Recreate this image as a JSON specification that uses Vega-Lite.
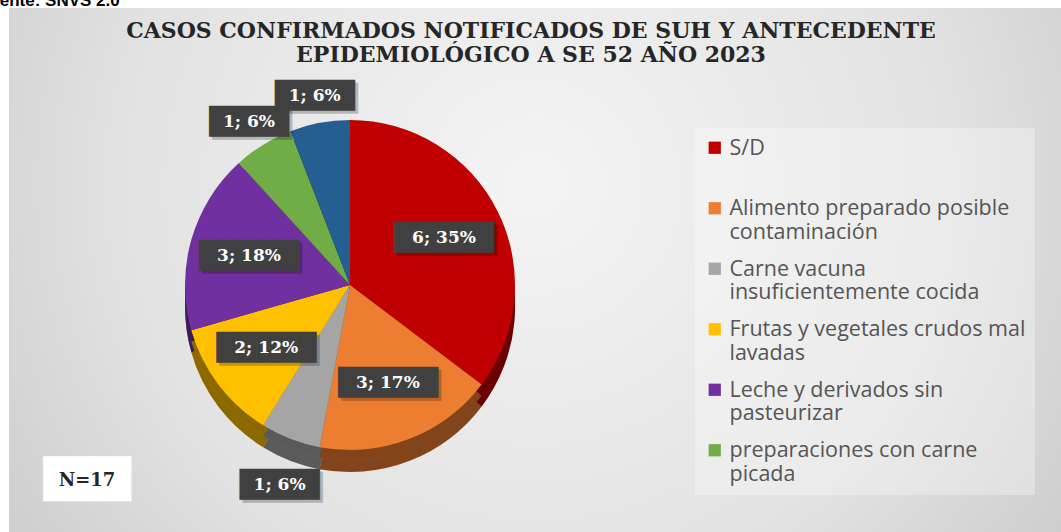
{
  "$schema": "https://vega.github.io/schema/vega-lite/v6.json",
  "width": 1052,
  "height": 524,
  "autosize": {"type": "none"},
  "padding": {"left": 9, "top": 8, "right": 0, "bottom": 0},
  "background": "#ffffff",
  "config": {"view": {"stroke": null}},
  "title": {
    "text": ["CASOS CONFIRMADOS NOTIFICADOS DE SUH Y ANTECEDENTE", "EPIDEMIOLÓGICO A SE 52 AÑO 2023"],
    "font": "DejaVu Serif",
    "fontSize": 22,
    "fontWeight": "bold",
    "color": "#262626",
    "anchor": "middle",
    "orient": "top",
    "baseline": "top",
    "lineHeight": 24,
    "offset": -75,
    "dx": -4
  },
  "datasets": {
    "main": [
      {"cat": "S/D", "n": 6, "label": "6; 35%", "ord": 1},
      {"cat": "Alimento preparado posible contaminación", "n": 3, "label": "3; 17%", "ord": 2},
      {"cat": "Carne vacuna insuficientemente cocida", "n": 1, "label": "1; 6%", "ord": 3},
      {"cat": "Frutas y vegetales crudos mal lavadas", "n": 2, "label": "2; 12%", "ord": 4},
      {"cat": "Leche y derivados sin pasteurizar", "n": 3, "label": "3; 18%", "ord": 5},
      {"cat": "preparaciones con carne picada", "n": 1, "label": "1; 6%", "ord": 6},
      {"cat": "Otros", "n": 1, "label": "1; 6%", "ord": 7}
    ]
  },
  "data": {"name": "main"},
  "layer": [
    {
      "data": {"values": [{}]},
      "mark": {"type": "rect", "color": {
        "gradient": "radial",
        "x1": 0.5, "y1": 0.42, "r1": 0,
        "x2": 0.5, "y2": 0.42, "r2": 0.72,
        "stops": [
          {"offset": 0, "color": "#f4f4f4"},
          {"offset": 0.55, "color": "#e2e2e2"},
          {"offset": 1, "color": "#c2c2c2"}
        ]
      }},
      "encoding": {}
    },
    {
      "mark": {"type": "arc", "outerRadius": 165, "x": 341, "y": 277, "yOffset": 22},
      "encoding": {
        "theta": {"field": "n", "type": "quantitative", "stack": true},
        "order": {"field": "ord", "type": "quantitative"},
        "color": {"field": "cat", "type": "nominal"}
      }
    },
    {
      "mark": {"type": "arc", "outerRadius": 165, "x": 341, "y": 277, "yOffset": 22, "color": "#000000", "opacity": 0.45},
      "encoding": {
        "theta": {"field": "n", "type": "quantitative", "stack": true},
        "order": {"field": "ord", "type": "quantitative"}
      }
    },
    {
      "mark": {"type": "arc", "outerRadius": 165, "x": 341, "y": 277, "yOffset": 11},
      "encoding": {
        "theta": {"field": "n", "type": "quantitative", "stack": true},
        "order": {"field": "ord", "type": "quantitative"},
        "color": {"field": "cat", "type": "nominal"}
      }
    },
    {
      "mark": {"type": "arc", "outerRadius": 165, "x": 341, "y": 277, "yOffset": 11, "color": "#000000", "opacity": 0.45},
      "encoding": {
        "theta": {"field": "n", "type": "quantitative", "stack": true},
        "order": {"field": "ord", "type": "quantitative"}
      }
    },
    {
      "mark": {"type": "arc", "outerRadius": 165, "x": 341, "y": 277},
      "encoding": {
        "theta": {"field": "n", "type": "quantitative", "stack": true},
        "order": {"field": "ord", "type": "quantitative"},
        "color": {"field": "cat", "type": "nominal",
          "scale": {"domain": ["S/D", "Alimento preparado posible contaminación", "Carne vacuna insuficientemente cocida", "Frutas y vegetales crudos mal lavadas", "Leche y derivados sin pasteurizar", "preparaciones con carne picada", "Otros"],
            "range": ["#C00000", "#ED7D31", "#A5A5A5", "#FFC000", "#7030A0", "#70AD47", "#255E91"]},
          "legend": {
            "orient": "none",
            "legendX": 686,
            "legendY": 120,
            "title": null,
            "values": ["S/D", "Alimento preparado posible contaminación", "Carne vacuna insuficientemente cocida", "Frutas y vegetales crudos mal lavadas", "Leche y derivados sin pasteurizar", "preparaciones con carne picada"],
            "labelExpr": "datum.label == 'S/D' ? ['S/D', ' '] : datum.label == 'Alimento preparado posible contaminación' ? ['Alimento preparado posible', 'contaminación'] : datum.label == 'Carne vacuna insuficientemente cocida' ? ['Carne vacuna', 'insuficientemente cocida'] : datum.label == 'Frutas y vegetales crudos mal lavadas' ? ['Frutas y vegetales crudos mal', 'lavadas'] : datum.label == 'Leche y derivados sin pasteurizar' ? ['Leche y derivados sin', 'pasteurizar'] : ['preparaciones con carne', 'picada']",
            "labelFont": "Open Sans",
            "labelFontSize": 21.5,
            "labelColor": "#555555",
            "labelLimit": 400,
            "labelOffset": 4,
            "labelBaseline": "top",
            "symbolType": "square",
            "symbolSize": 150,
            "symbolStrokeWidth": 0,
            "rowPadding": 14.5,
            "padding": 9,
            "fillColor": "rgba(255,255,255,0.3)",
            "encode": {"labels": {"update": {"lineHeight": {"value": 23.5}, "dy": {"value": -10}}}}
          }
        }
      }
    },
    {
      "mark": {"type": "text", "x": 341, "y": 277, "radius": 105, "dx": 3, "dy": 3, "font": "DejaVu Sans", "fontSize": 26, "color": "#000000", "baseline": "middle", "align": "center"},
      "encoding": {
        "theta": {"field": "n", "type": "quantitative", "stack": true},
        "order": {"field": "ord", "type": "quantitative"},
        "text": {"value": "█████"},
        "opacity": {"condition": {"test": "datum.n >= 2", "value": 0.22}, "value": 0}
      }
    },
    {
      "mark": {"type": "text", "x": 341, "y": 277, "radius": 105, "font": "DejaVu Sans", "fontSize": 26, "color": "#404040", "baseline": "middle", "align": "center"},
      "encoding": {
        "theta": {"field": "n", "type": "quantitative", "stack": true},
        "order": {"field": "ord", "type": "quantitative"},
        "text": {"value": "█████"},
        "opacity": {"condition": {"test": "datum.n >= 2", "value": 1}, "value": 0}
      }
    },
    {
      "mark": {"type": "text", "x": 341, "y": 277, "radius": 105, "font": "DejaVu Serif", "fontWeight": "bold", "fontSize": 17, "color": "#ffffff", "baseline": "middle", "align": "center"},
      "encoding": {
        "theta": {"field": "n", "type": "quantitative", "stack": true},
        "order": {"field": "ord", "type": "quantitative"},
        "text": {"field": "label"},
        "opacity": {"condition": {"test": "datum.n >= 2", "value": 1}, "value": 0}
      }
    },
    {
      "mark": {"type": "text", "x": 341, "y": 277, "radius": 192, "dx": 3, "dy": 3, "font": "DejaVu Sans", "fontSize": 26, "color": "#000000", "baseline": "middle", "align": "center"},
      "encoding": {
        "theta": {"field": "n", "type": "quantitative", "stack": true},
        "order": {"field": "ord", "type": "quantitative"},
        "text": {"value": "████"},
        "opacity": {"condition": {"test": "datum.ord >= 6", "value": 0.22}, "value": 0}
      }
    },
    {
      "mark": {"type": "text", "x": 341, "y": 277, "radius": 192, "font": "DejaVu Sans", "fontSize": 26, "color": "#404040", "baseline": "middle", "align": "center"},
      "encoding": {
        "theta": {"field": "n", "type": "quantitative", "stack": true},
        "order": {"field": "ord", "type": "quantitative"},
        "text": {"value": "████"},
        "opacity": {"condition": {"test": "datum.ord >= 6", "value": 1}, "value": 0}
      }
    },
    {
      "mark": {"type": "text", "x": 341, "y": 277, "radius": 192, "font": "DejaVu Serif", "fontWeight": "bold", "fontSize": 17, "color": "#ffffff", "baseline": "middle", "align": "center"},
      "encoding": {
        "theta": {"field": "n", "type": "quantitative", "stack": true},
        "order": {"field": "ord", "type": "quantitative"},
        "text": {"field": "label"},
        "opacity": {"condition": {"test": "datum.ord >= 6", "value": 1}, "value": 0}
      }
    },
    {
      "mark": {"type": "text", "x": 341, "y": 277, "radius": 195, "yOffset": 18, "dx": 3, "dy": 3, "font": "DejaVu Sans", "fontSize": 26, "color": "#000000", "baseline": "middle", "align": "center"},
      "encoding": {
        "theta": {"field": "n", "type": "quantitative", "stack": true},
        "order": {"field": "ord", "type": "quantitative"},
        "text": {"value": "████"},
        "opacity": {"condition": {"test": "datum.ord == 3", "value": 0.22}, "value": 0}
      }
    },
    {
      "mark": {"type": "text", "x": 341, "y": 277, "radius": 195, "yOffset": 18, "font": "DejaVu Sans", "fontSize": 26, "color": "#404040", "baseline": "middle", "align": "center"},
      "encoding": {
        "theta": {"field": "n", "type": "quantitative", "stack": true},
        "order": {"field": "ord", "type": "quantitative"},
        "text": {"value": "████"},
        "opacity": {"condition": {"test": "datum.ord == 3", "value": 1}, "value": 0}
      }
    },
    {
      "mark": {"type": "text", "x": 341, "y": 277, "radius": 195, "yOffset": 18, "font": "DejaVu Serif", "fontWeight": "bold", "fontSize": 17, "color": "#ffffff", "baseline": "middle", "align": "center"},
      "encoding": {
        "theta": {"field": "n", "type": "quantitative", "stack": true},
        "order": {"field": "ord", "type": "quantitative"},
        "text": {"field": "label"},
        "opacity": {"condition": {"test": "datum.ord == 3", "value": 1}, "value": 0}
      }
    },
    {
      "data": {"values": [{"t": "███"}]},
      "mark": {"type": "text", "x": 78, "y": 473, "font": "DejaVu Sans", "fontSize": 38, "color": "#ffffff", "baseline": "middle", "align": "center"},
      "encoding": {"text": {"field": "t"}}
    },
    {
      "data": {"values": [{"t": "N=17"}]},
      "mark": {"type": "text", "x": 78, "y": 473, "font": "DejaVu Serif", "fontWeight": "bold", "fontSize": 18, "color": "#262626", "baseline": "middle", "align": "center"},
      "encoding": {"text": {"field": "t"}}
    },
    {
      "data": {"values": [{"t": "Fuente: SNVS 2.0"}]},
      "mark": {"type": "text", "x": -30, "y": -2, "font": "Liberation Sans", "fontWeight": "bold", "fontSize": 17, "color": "#000000", "baseline": "alphabetic", "align": "left"},
      "encoding": {"text": {"field": "t"}}
    }
  ]
}
